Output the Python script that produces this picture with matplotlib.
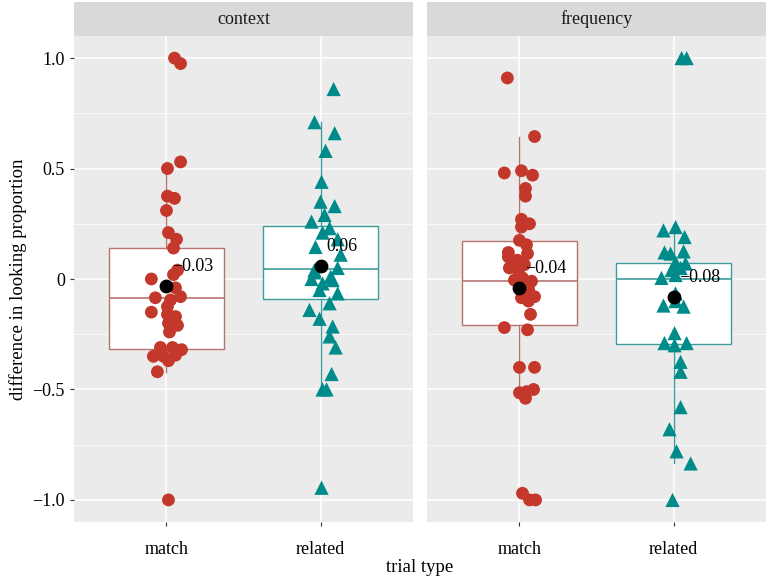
import numpy as np
import matplotlib
matplotlib.use("Agg")
import matplotlib.pyplot as plt
from matplotlib.patches import Rectangle

plt.rcParams['font.family'] = ['Liberation Serif', 'DejaVu Serif']

facets = ['context', 'frequency']
trial_types = ['match', 'related']

# looking-proportion differences and horizontal jitter
ctx_match = [1.0, 0.975, 0.53, 0.50, 0.375, 0.365, 0.31, 0.21, 0.18, 0.14, 0.04, 0.02, 0.0,
             -0.04, -0.08, -0.085, -0.095, -0.125, -0.15, -0.16, -0.17, -0.20, -0.21, -0.24,
             -0.31, -0.31, -0.32, -0.35, -0.35, -0.345, -0.37, -0.42, -1.0]
ctx_match_jit = [8, 14, 14, 1, 1, 8, 0, 2, 10, 7, 11, 7, -15, 9, 14, -11, 4, 1, -15, 1, 9, 2,
                 11, 3, -6, 6, 15, -13, -3, 9, 2, -9, 2]
ctx_related = [0.86, 0.71, 0.66, 0.58, 0.44, 0.35, 0.33, 0.29, 0.26, 0.23, 0.21, 0.18, 0.145,
               0.11, 0.05, 0.04, 0.03, 0.01, 0.0, -0.005, -0.02, -0.05, -0.065, -0.11, -0.14,
               -0.18, -0.215, -0.26, -0.31, -0.43, -0.50, -0.50, -0.945]
ctx_related_jit = [13, -6, 14, 5, 1, 0, 14, 4, -9, 9, 2, 17, -5, 20, 17, -6, -6, 10, -9, 12, 2,
                   -1, 17, 9, -11, -1, 12, 9, 15, 11, 2, 6, 1]
frq_match = [0.91, 0.645, 0.48, 0.49, 0.47, 0.41, 0.375, 0.27, 0.25, 0.235, 0.175, 0.155, 0.12,
             0.115, 0.10, 0.085, 0.065, 0.05, 0.04, 0.005, -0.005, -0.01, -0.045, -0.08, -0.085,
             -0.1, -0.16, -0.22, -0.23, -0.40, -0.40, -0.50, -0.51, -0.515, -0.54, -0.97, -1.0, -1.0]
frq_match_jit = [-12, 15, -15, 2, 13, 6, 6, 2, 10, 2, 0, 7, -11, 8, -11, -2, 5, -10, -1, 3, -5,
                 12, 9, 15, 2, 9, 11, -15, 8, 0, 15, 14, 7, 0, 6, 3, 10, 16]
frq_related = [1.0, 1.0, 0.22, 0.235, 0.19, 0.12, 0.115, 0.125, 0.075, 0.07, 0.04, 0.05, 0.005,
               0.018, -0.065, -0.10, -0.12, -0.125, -0.245, -0.29, -0.30, -0.29, -0.375, -0.42,
               -0.58, -0.68, -0.78, -0.835, -1.0]
frq_related_jit = [8, 13, -10, 2, 11, -9, -3, 10, 2, 12, -2, 7, -12, 2, 2, 2, -10, 10, 1, -9, 1,
                   13, 7, 7, 7, -4, 3, 17, -1]

# box statistics: q1, median, q3, lower whisker, upper whisker
box_stats = {
    ('context', 'match'): (-0.316, -0.086, 0.14, -0.42, 0.53),
    ('context', 'related'): (-0.09, 0.045, 0.24, -0.50, 0.71),
    ('frequency', 'match'): (-0.21, -0.01, 0.17, -0.515, 0.645),
    ('frequency', 'related'): (-0.293, 0.0, 0.072, -0.835, 0.235),
}
means = {
    ('context', 'match'): -0.03,
    ('context', 'related'): 0.06,
    ('frequency', 'match'): -0.04,
    ('frequency', 'related'): -0.08,
}

points = {
    ('context', 'match'): (ctx_match, ctx_match_jit),
    ('context', 'related'): (ctx_related, ctx_related_jit),
    ('frequency', 'match'): (frq_match, frq_match_jit),
    ('frequency', 'related'): (frq_related, frq_related_jit),
}

pt_col = {'match': '#C4372B', 'related': '#008B8B'}
box_col = {'match': '#B5756F', 'related': '#3E9C9C'}
marker = {'match': 'o', 'related': '^'}
msize = {'match': 85, 'related': 105}

W, H = 772, 578
fig = plt.figure(figsize=(W / 100, H / 100), dpi=100)

panels = [(74, 413), (427, 766)]
top, bottom = 36, 522
strip_top = 2

for (x0, x1), facet in zip(panels, facets):
    ax = fig.add_axes([x0 / W, 1 - bottom / H, (x1 - x0) / W, (bottom - top) / H])
    ax.set_facecolor('#EBEBEB')
    for s in ax.spines.values():
        s.set_visible(False)

    for i, tt in enumerate(trial_types, start=1):
        q1, med, q3, lo, hi = box_stats[(facet, tt)]
        st = [dict(q1=q1, med=med, q3=q3, whislo=lo, whishi=hi, fliers=[])]
        ax.bxp(st, positions=[i], widths=0.75, patch_artist=True, showcaps=False,
               manage_ticks=False,
               boxprops=dict(facecolor='white', edgecolor=box_col[tt], lw=1.0),
               medianprops=dict(color=box_col[tt], lw=1.2),
               whiskerprops=dict(color=box_col[tt], lw=1.0), zorder=2)
        vals, jit = points[(facet, tt)]
        xs = i + np.array(jit) / 153.0
        ax.scatter(xs, vals, s=msize[tt], marker=marker[tt], color=pt_col[tt],
                   edgecolors='none', zorder=3)
        m = means[(facet, tt)]
        ax.scatter([i], [m], s=80, color='black', zorder=4)
        lab = f'{m:.2f}'.replace('-', '\u2212')
        ax.annotate(lab, (i, m), xytext=(6, 19), textcoords='offset pixels',
                    ha='left', va='center', fontsize=13, zorder=5)

    ax.set_xlim(0.4, 2.6)
    ax.set_ylim(-1.1, 1.1)
    ax.set_yticks([-1.0, -0.5, 0, 0.5, 1.0])
    ax.set_yticks([-0.75, -0.25, 0.25, 0.75], minor=True)
    ax.set_xticks([1, 2])
    ax.set_xticklabels(trial_types, fontsize=13)
    ax.grid(True, which='major', color='white', lw=1.1)
    ax.grid(True, which='minor', axis='y', color='white', lw=0.5)
    ax.set_axisbelow(True)
    ax.tick_params(axis='both', which='major', length=3, color='#333333', width=0.8)
    ax.tick_params(axis='x', which='major', pad=11)
    ax.tick_params(axis='y', which='minor', length=0)
    if facet == 'context':
        ax.set_yticklabels(['\u22121.0', '\u22120.5', '0', '0.5', '1.0'], fontsize=13)
        ax.set_ylabel('difference in looking proportion', fontsize=13.5, labelpad=4)
    else:
        ax.set_yticklabels([])
        ax.tick_params(axis='y', which='major', length=0)

    # facet strip
    sax = fig.add_axes([x0 / W, 1 - top / H, (x1 - x0) / W, (top - strip_top) / H])
    sax.add_patch(Rectangle((0, 0), 1, 1, color='#D9D9D9', transform=sax.transAxes))
    sax.text(0.5, 0.5, facet, ha='center', va='center', fontsize=13, color='#1A1A1A')
    sax.set_axis_off()

fig.text((74 + 766) / 2 / W, 1 - 568 / H, 'trial type', ha='center', va='center', fontsize=13.5)

fig.savefig('out.png', dpi=100)
